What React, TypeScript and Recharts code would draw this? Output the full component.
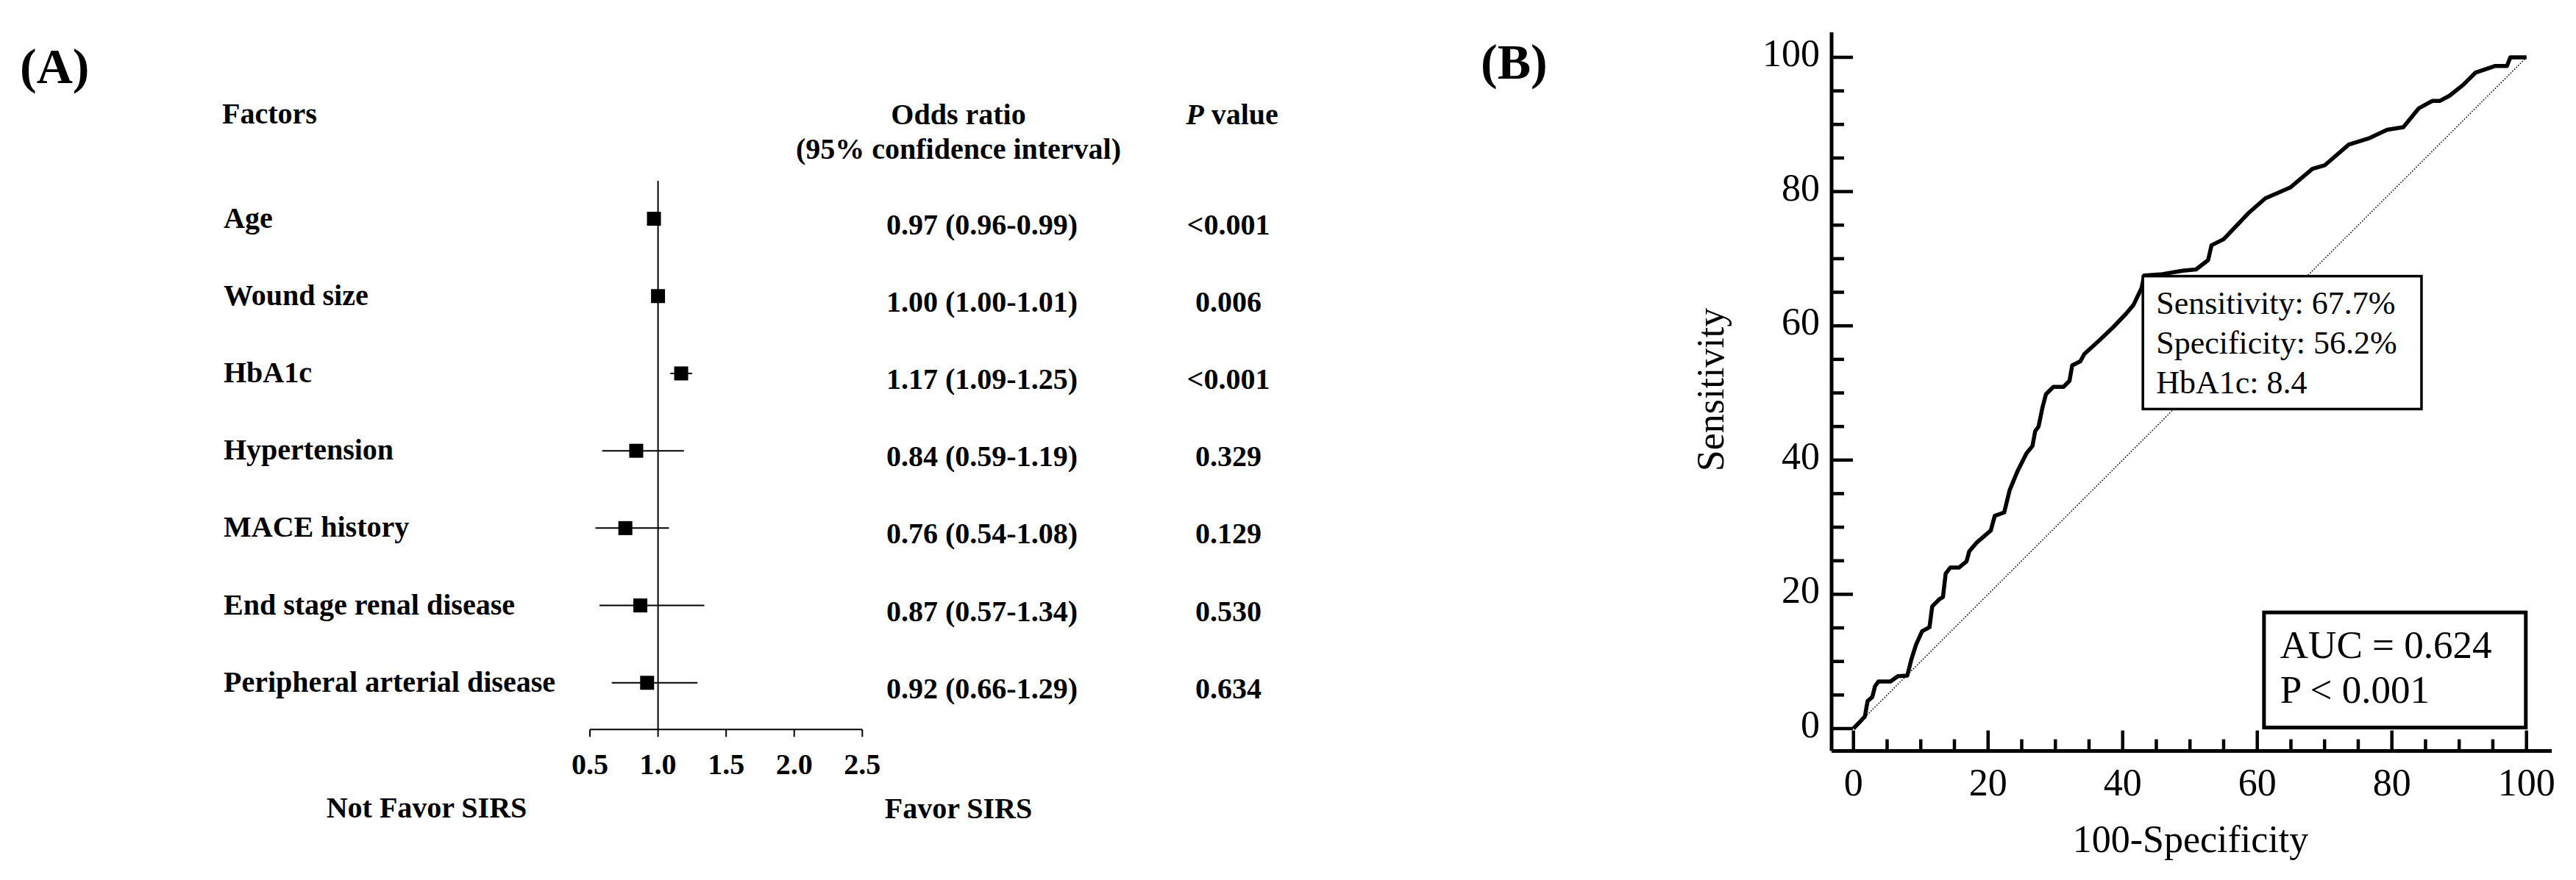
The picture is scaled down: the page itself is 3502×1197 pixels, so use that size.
import React from 'react';
import {
  ScatterChart,
  Scatter,
  XAxis,
  YAxis,
  ReferenceLine,
  ReferenceArea,
  ErrorBar,
  LineChart,
  Line,
} from 'recharts';

const FONT = "'Liberation Serif', 'Times New Roman', Times, serif";

// ---------- Panel A: forest plot data ----------
const factors = [
  'Age',
  'Wound size',
  'HbA1c',
  'Hypertension',
  'MACE history',
  'End stage renal disease',
  'Peripheral arterial disease',
];
const oddsRatios = [0.97, 1.0, 1.17, 0.84, 0.76, 0.87, 0.92];
const ciLower = [0.96, 1.0, 1.09, 0.59, 0.54, 0.57, 0.66];
const ciUpper = [0.99, 1.01, 1.25, 1.19, 1.08, 1.34, 1.29];
const pValues = ['<0.001', '0.006', '<0.001', '0.329', '0.129', '0.530', '0.634'];
const orTicks = [0.5, 1.0, 1.5, 2.0, 2.5];

// ---------- Panel B: ROC curve data ----------
const rocFpr = [
  0, 1.7, 2.1, 2.8, 3.2, 3.7, 5.5, 6.6, 8.0, 8.6, 9.3, 10.2, 11.3, 11.7, 12.8, 13.3, 13.7, 14.4, 15.7, 16.8,
  17.2, 18.3, 20.4, 21.0, 22.4, 23.2, 24.4, 25.7, 26.6, 27.0, 27.5, 28.1, 28.6, 29.7, 31.2, 32.1, 32.5, 33.7,
  34.3, 36.5, 38.6, 40.5, 41.6, 42.8, 43.2, 45.9, 48.9, 50.9, 52.7, 53.2, 55.0, 57.0, 58.7, 61.2, 64.9, 68.2,
  70.0, 73.6, 76.5, 79.3, 81.7, 84.0, 86.0, 87.1, 88.6, 90.6, 92.4, 95.3, 97.1, 97.6, 100,
];
const rocSensitivity = [
  0, 1.8, 4.1, 4.7, 6.3, 7.0, 7.0, 7.8, 7.9, 10.3, 12.5, 14.5, 15.1, 18.2, 19.3, 19.6, 23.1, 24.0, 24.0, 24.9,
  26.4, 27.7, 29.5, 31.7, 32.2, 35.5, 38.4, 41.0, 42.1, 44.3, 45.0, 47.9, 49.8, 50.9, 50.9, 51.8, 54.1, 54.7,
  55.8, 57.8, 59.8, 61.8, 63.1, 65.6, 67.5, 67.7, 68.2, 68.4, 69.8, 72.0, 72.9, 75.0, 76.8, 79.0, 80.6, 83.4,
  83.9, 87.0, 87.9, 89.2, 89.6, 92.4, 93.5, 93.5, 94.3, 95.9, 97.7, 98.7, 98.7, 100, 100,
];
const rocTicks = [0, 5, 10, 15, 20, 25, 30, 35, 40, 45, 50, 55, 60, 65, 70, 75, 80, 85, 90, 95, 100];
const cutoffSensitivity = '67.7';
const cutoffSpecificity = '56.2';
const cutoffHbA1c = '8.4';
const aucValue = '0.624';
const aucP = '< 0.001';

// ---------- derived tables ----------
const forestData = factors.map((f, i) => ({
  row: i,
  or: oddsRatios[i],
  err: [oddsRatios[i] - ciLower[i], ciUpper[i] - oddsRatios[i]],
}));
const rowTicks = factors.map((_, i) => i);
const orLabel = (i: number) =>
  `${oddsRatios[i].toFixed(2)} (${ciLower[i].toFixed(2)}-${ciUpper[i].toFixed(2)})`;

const rocData = rocFpr.map((x, i) => ({ x, y: rocSensitivity[i] }));

// ---------- renderers ----------
const boldText = { fontFamily: FONT, fontWeight: 'bold' as const, fontSize: 40, fill: '#000' };

const ForestRowTick = (props: any) => {
  const { x, y, payload } = props;
  const i = payload.value;
  if (i < 0 || i >= factors.length) return null;
  return (
    <g>
      <text x={x - 498} y={y + 12} textAnchor="start" {...boldText}>
        {factors[i]}
      </text>
      <text x={x + 533} y={y + 21} textAnchor="middle" {...boldText}>
        {orLabel(i)}
      </text>
      <text x={x + 868} y={y + 21} textAnchor="middle" {...boldText}>
        {pValues[i]}
      </text>
    </g>
  );
};

const SquareMarker = (props: any) => (
  <rect x={props.cx - 9.5} y={props.cy - 9.5} width={19} height={19} fill="#000" />
);

const RocYTick = (props: any) => {
  const { x, y, payload } = props;
  const v = payload.value;
  const major = v % 20 === 0;
  return (
    <g>
      <line x1={x} y1={y} x2={x + (major ? 29 : 17)} y2={y} stroke="#000" strokeWidth={4.5} />
      {major && (
        <text x={x - 16} y={y + 12} textAnchor="end" fontFamily={FONT} fontSize={52} fill="#000">
          {v}
        </text>
      )}
    </g>
  );
};

const RocXTick = (props: any) => {
  const { x, y, payload } = props;
  const v = payload.value;
  const major = v % 20 === 0;
  return (
    <g>
      <line x1={x} y1={y} x2={x} y2={y - (major ? 28 : 16)} stroke="#000" strokeWidth={4.5} />
      {major && (
        <text x={x} y={y + 60} textAnchor="middle" fontFamily={FONT} fontSize={52} fill="#000">
          {v}
        </text>
      )}
    </g>
  );
};

const makeBox =
  (lines: string[], opts: { stroke: number; pad: number; first: number; step: number; size: number }) =>
  (p: any) => (
    <g>
      <rect x={p.x} y={p.y} width={p.width} height={p.height} fill="#fff" stroke="#000" strokeWidth={opts.stroke} />
      {lines.map((t, k) => (
        <text
          key={k}
          x={p.x + opts.pad}
          y={p.y + opts.first + opts.step * k}
          fontFamily={FONT}
          fontSize={opts.size}
          fill="#000"
        >
          {t}
        </text>
      ))}
    </g>
  );

const cutoffBox = makeBox(
  [`Sensitivity: ${cutoffSensitivity}%`, `Specificity: ${cutoffSpecificity}%`, `HbA1c: ${cutoffHbA1c}`],
  { stroke: 3.5, pad: 18, first: 51, step: 54, size: 44 }
);
const aucBox = makeBox([`AUC = ${aucValue}`, `P ${aucP}`], { stroke: 5, pad: 22, first: 62, step: 61, size: 53 });

export default function App() {
  return (
    <div
      style={{
        position: 'absolute',
        left: 0,
        top: 0,
        width: 3502,
        height: 1197,
        background: '#fff',
        overflow: 'hidden',
      }}
    >
      {/* Panel A: forest plot */}
      <div style={{ position: 'absolute', left: 0, top: 0 }}>
        <ScatterChart width={1800} height={1197} margin={{ top: 246, right: 627.7, bottom: 194.7, left: 792 }}>
          <XAxis
            type="number"
            dataKey="or"
            domain={[0.5, 2.5]}
            allowDataOverflow
            ticks={orTicks}
            interval={0}
            tickFormatter={(v: number) => v.toFixed(1)}
            height={10}
            axisLine={{ stroke: '#000', strokeWidth: 2 }}
            tickLine={{ stroke: '#000', strokeWidth: 2 }}
            tickSize={10}
            tickMargin={22}
            tick={{ fill: '#000', fontSize: 40, fontWeight: 'bold', fontFamily: FONT }}
          />
          <YAxis
            type="number"
            dataKey="row"
            domain={[-0.49, 6.604]}
            allowDataOverflow
            reversed
            ticks={rowTicks}
            interval={0}
            width={10}
            axisLine={false}
            tickLine={false}
            tickSize={0}
            tickMargin={0}
            tick={ForestRowTick}
          />
          <ReferenceLine x={1} stroke="#000" strokeWidth={2} />
          <Scatter data={forestData} shape={SquareMarker} isAnimationActive={false}>
            <ErrorBar dataKey="err" direction="x" width={0} stroke="#000" strokeWidth={2} isAnimationActive={false} />
          </Scatter>
        </ScatterChart>
      </div>

      {/* Panel B: ROC curve */}
      <div style={{ position: 'absolute', left: 2200, top: 0 }}>
        <LineChart width={1302} height={1197} data={rocData} margin={{ top: 44, right: 33, bottom: 165.4, left: 280 }}>
          <XAxis
            type="number"
            dataKey="x"
            domain={[-3.25, 103.75]}
            allowDataOverflow
            ticks={rocTicks}
            interval={0}
            height={10}
            axisLine={{ stroke: '#000', strokeWidth: 5 }}
            tickLine={false}
            tickSize={0}
            tickMargin={0}
            tick={RocXTick}
          />
          <YAxis
            type="number"
            domain={[-3.35, 103.72]}
            allowDataOverflow
            ticks={rocTicks}
            interval={0}
            width={10}
            axisLine={{ stroke: '#000', strokeWidth: 5 }}
            tickLine={false}
            tickSize={0}
            tickMargin={0}
            tick={RocYTick}
          />
          <ReferenceLine
            segment={[
              { x: 0, y: 0 },
              { x: 100, y: 100 },
            ]}
            stroke="#000"
            strokeWidth={1.6}
            strokeDasharray="1.5 2.2"
          />
          <Line
            type="linear"
            dataKey="y"
            stroke="#000"
            strokeWidth={5.5}
            strokeLinejoin="round"
            dot={false}
            activeDot={false}
            isAnimationActive={false}
          />
          <ReferenceArea x1={43.0} x2={84.4} y1={47.6} y2={67.4} shape={cutoffBox} zIndex={1000} />
          <ReferenceArea x1={61.0} x2={99.9} y1={0.15} y2={17.3} shape={aucBox} zIndex={1000} />
        </LineChart>
      </div>

      {/* Static titles and headers */}
      <svg
        width={3502}
        height={1197}
        style={{ position: 'absolute', left: 0, top: 0, pointerEvents: 'none' }}
      >
        <text x={27} y={113} fontFamily={FONT} fontWeight="bold" fontSize={68} fill="#000">
          (A)
        </text>
        <text x={2013} y={107} fontFamily={FONT} fontWeight="bold" fontSize={68} fill="#000">
          (B)
        </text>
        <text x={302} y={168} textAnchor="start" {...boldText}>
          Factors
        </text>
        <text x={1303} y={169} textAnchor="middle" {...boldText}>
          Odds ratio
        </text>
        <text x={1303} y={216} textAnchor="middle" {...boldText}>
          (95% confidence interval)
        </text>
        <text x={1675} y={169} textAnchor="middle" {...boldText}>
          <tspan fontStyle="italic">P</tspan> value
        </text>
        <text x={580} y={1112} textAnchor="middle" {...boldText}>
          Not Favor SIRS
        </text>
        <text x={1303} y={1113} textAnchor="middle" {...boldText}>
          Favor SIRS
        </text>
        <text
          x={2343}
          y={530}
          textAnchor="middle"
          fontFamily={FONT}
          fontSize={52}
          fill="#000"
          transform="rotate(-90, 2343, 530)"
        >
          Sensitivity
        </text>
        <text x={2978} y={1159} textAnchor="middle" fontFamily={FONT} fontSize={52} fill="#000">
          100-Specificity
        </text>
      </svg>
    </div>
  );
}
